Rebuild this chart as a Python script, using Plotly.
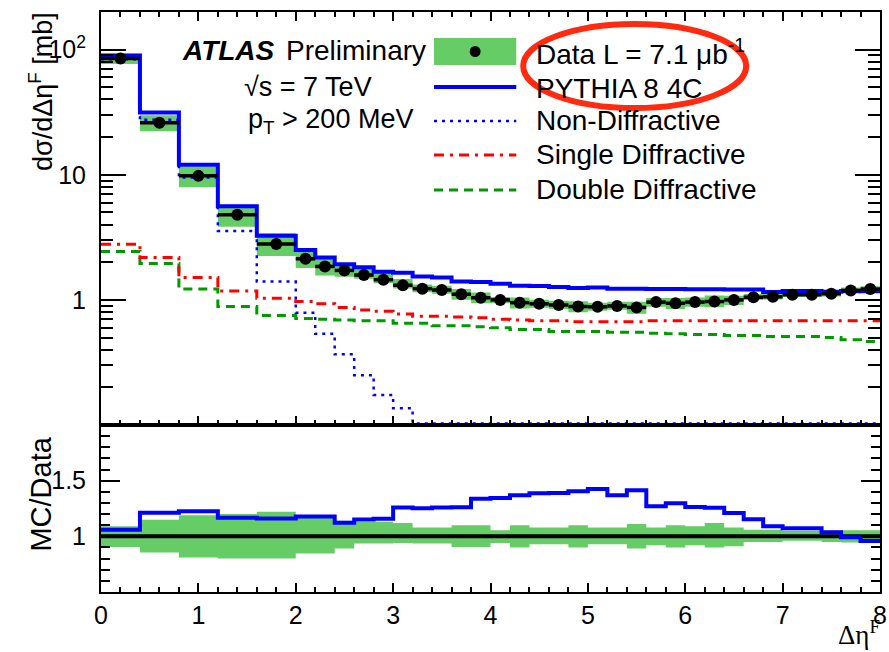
import plotly.graph_objects as go
import math

# ---------------- data ----------------
bin_edges = [0.0, 0.4, 0.8, 1.2, 1.6,
             2.0, 2.2, 2.4, 2.6, 2.8, 3.0, 3.2, 3.4, 3.6, 3.8,
             4.0, 4.2, 4.4, 4.6, 4.8, 5.0, 5.2, 5.4, 5.6, 5.8,
             6.0, 6.2, 6.4, 6.6, 6.8, 7.0, 7.2, 7.4, 7.6, 7.8, 8.0]

data_xsec = [85, 26, 9.8, 4.8, 2.8,
             2.13, 1.85, 1.72, 1.58, 1.45,
             1.31, 1.23, 1.20, 1.11, 1.04,
             1.00, 0.95, 0.93, 0.91, 0.885,
             0.88, 0.895, 0.87, 0.96, 0.94,
             0.96, 0.97, 1.00, 1.05, 1.06,
             1.10, 1.10, 1.12, 1.19, 1.22]

data_err_up = [0.09, 0.15, 0.19, 0.20, 0.22,
               0.17, 0.17, 0.14, 0.13, 0.13,
               0.12, 0.08, 0.08, 0.10, 0.10,
               0.055, 0.10, 0.08, 0.08, 0.10,
               0.08, 0.08, 0.11, 0.08, 0.10,
               0.09, 0.12, 0.08, 0.06, 0.06,
               0.05, 0.05, 0.05, 0.055, 0.055]

data_err_dn = [0.095, 0.145, 0.19, 0.20, 0.20,
               0.155, 0.155, 0.11, 0.065, 0.065,
               0.06, 0.065, 0.065, 0.095, 0.095,
               0.06, 0.10, 0.07, 0.07, 0.10,
               0.07, 0.07, 0.11, 0.08, 0.10,
               0.08, 0.10, 0.09, 0.05, 0.05,
               0.04, 0.04, 0.05, 0.055, 0.055]

pythia_total = [90, 31.5, 12.0, 5.6, 3.25,
                2.51, 2.18, 1.93, 1.82, 1.68,
                1.65, 1.54, 1.51, 1.40, 1.39,
                1.345, 1.30, 1.29, 1.265, 1.243,
                1.255, 1.226, 1.23, 1.22, 1.22,
                1.214, 1.218, 1.21, 1.21, 1.155,
                1.18, 1.18, 1.16, 1.18, 1.17]

non_diffractive = [84, 27.5, 9.5, 3.56, 1.40,
                   0.79, 0.535, 0.367, 0.25, 0.174,
                   0.136, 0.103, 0.103, 0.103, 0.103,
                   0.103, 0.103, 0.103, 0.103, 0.103,
                   0.103, 0.103, 0.103, 0.103, 0.103,
                   0.103, 0.103, 0.103, 0.103, 0.103,
                   0.103, 0.103, 0.103, 0.103, 0.103]

single_diffractive = [2.79, 2.18, 1.51, 1.18, 1.03,
                      0.97, 0.93, 0.87, 0.83, 0.81,
                      0.77, 0.74, 0.74, 0.73, 0.72,
                      0.70, 0.69, 0.68, 0.68, 0.67,
                      0.67, 0.67, 0.67, 0.68, 0.68,
                      0.68, 0.68, 0.68, 0.68, 0.68,
                      0.68, 0.68, 0.68, 0.68, 0.68]

double_diffractive = [2.44, 1.95, 1.22, 0.885, 0.75,
                      0.71, 0.70, 0.69, 0.68, 0.68,
                      0.65, 0.65, 0.62, 0.62, 0.61,
                      0.60, 0.58, 0.58, 0.56, 0.56,
                      0.56, 0.55, 0.55, 0.54, 0.535,
                      0.53, 0.53, 0.52, 0.52, 0.51,
                      0.51, 0.51, 0.50, 0.48, 0.465]

x_tick_vals = [0, 1, 2, 3, 4, 5, 6, 7, 8]
x_tick_text = ["0", "1", "2", "3", "4", "5", "6", "7", "8"]
y_tick_vals = [1, 10, 100]
y_tick_text = ["1", "10", "10<sup>2</sup>"]
r_tick_vals = [1, 1.5]
r_tick_text = ["1", "1.5"]

# ---------------- derived ----------------
centers = [(a + b) / 2 for a, b in zip(bin_edges[:-1], bin_edges[1:])]
half_w = [(b - a) / 2 for a, b in zip(bin_edges[:-1], bin_edges[1:])]
band_lo = [d * (1 - e) for d, e in zip(data_xsec, data_err_dn)]
band_hi = [d * (1 + e) for d, e in zip(data_xsec, data_err_up)]
ratio = [m / d for m, d in zip(pythia_total, data_xsec)]
ratio_lo = [1 - e for e in data_err_dn]
ratio_hi = [1 + e for e in data_err_up]
ones = [1.0 for _ in data_xsec]


def step(vals):
    return list(vals) + [vals[-1]]


# ---------------- layout geometry (pixels) ----------------
W, H = 889, 652
L, R, T, B = 101, 887, 12, 592
SPLIT = 425


def px(x):
    return (x - L) / (R - L)


def py(y):
    return (B - y) / (B - T)


split_frac = py(SPLIT)

GREEN_FILL = "#66cc66"
BLUE = "#0000ff"
RED = "#ff0000"
DGREEN = "#009900"
FONT = "Liberation Sans"

fig = go.Figure()

# ---- top panel ----
fig.add_trace(go.Scatter(x=bin_edges, y=step(band_lo), mode="lines", line_shape="hv",
                         line=dict(width=0, color=GREEN_FILL), xaxis="x", yaxis="y",
                         showlegend=False, hoverinfo="skip"))
fig.add_trace(go.Scatter(x=bin_edges, y=step(band_hi), mode="lines", line_shape="hv",
                         line=dict(width=0, color=GREEN_FILL), fill="tonexty",
                         fillcolor=GREEN_FILL, xaxis="x", yaxis="y",
                         showlegend=False, hoverinfo="skip"))
fig.add_trace(go.Scatter(x=bin_edges, y=step(double_diffractive), mode="lines", line_shape="hv",
                         line=dict(color=DGREEN, width=3, dash="9px,6px"),
                         xaxis="x", yaxis="y", name="Double Diffractive"))
fig.add_trace(go.Scatter(x=bin_edges, y=step(single_diffractive), mode="lines", line_shape="hv",
                         line=dict(color=RED, width=3, dash="10px,6px,3px,6px"),
                         xaxis="x", yaxis="y", name="Single Diffractive"))
fig.add_trace(go.Scatter(x=bin_edges, y=step(non_diffractive), mode="lines", line_shape="hv",
                         line=dict(color=BLUE, width=2.5, dash="3px,5px"),
                         xaxis="x", yaxis="y", name="Non-Diffractive"))
fig.add_trace(go.Scatter(x=bin_edges, y=step(pythia_total), mode="lines", line_shape="hv",
                         line=dict(color=BLUE, width=4),
                         xaxis="x", yaxis="y", name="PYTHIA 8 4C"))
fig.add_trace(go.Scatter(x=centers, y=data_xsec, mode="markers",
                         marker=dict(color="black", size=12, symbol="circle"),
                         error_x=dict(type="data", array=half_w, color="black",
                                      thickness=3.5, width=0),
                         xaxis="x", yaxis="y", name="Data"))

# ---- ratio panel ----
fig.add_trace(go.Scatter(x=bin_edges, y=step(ratio_lo), mode="lines", line_shape="hv",
                         line=dict(width=0, color=GREEN_FILL), xaxis="x2", yaxis="y2",
                         showlegend=False, hoverinfo="skip"))
fig.add_trace(go.Scatter(x=bin_edges, y=step(ratio_hi), mode="lines", line_shape="hv",
                         line=dict(width=0, color=GREEN_FILL), fill="tonexty",
                         fillcolor=GREEN_FILL, xaxis="x2", yaxis="y2",
                         showlegend=False, hoverinfo="skip"))
fig.add_trace(go.Scatter(x=bin_edges, y=step(ones), mode="lines", line_shape="hv",
                         line=dict(color="black", width=4), xaxis="x2", yaxis="y2",
                         showlegend=False))
fig.add_trace(go.Scatter(x=bin_edges, y=step(ratio), mode="lines", line_shape="hv",
                         line=dict(color=BLUE, width=4), xaxis="x2", yaxis="y2",
                         showlegend=False))

# minor tick positions for log axis
log_minor = [m * 10 ** e for e in (-1, 0, 1, 2) for m in range(2, 10) if m * 10 ** e <= 200]

axis_common = dict(showgrid=False, zeroline=False, showline=True, linecolor="black",
                   linewidth=2, ticks="inside", tickcolor="black", tickwidth=2,
                   tickfont=dict(family=FONT, size=25, color="black"))

fig.update_layout(
    width=W, height=H,
    margin=dict(l=L, r=W - R, t=T, b=H - B, pad=0),
    paper_bgcolor="white", plot_bgcolor="white",
    showlegend=False,
    font=dict(family=FONT, color="black"),
    xaxis=dict(domain=[0, 1], range=[0, 8], anchor="y", showticklabels=False,
               tickvals=x_tick_vals, ticklen=9, mirror="allticks",
               minor=dict(dtick=0.2, tick0=0, ticklen=5, ticks="inside",
                          tickwidth=2, tickcolor="black", showgrid=False),
               **axis_common),
    yaxis=dict(domain=[split_frac, 1], type="log", range=[-1, math.log10(200)],
               anchor="x", tickvals=y_tick_vals, ticktext=y_tick_text, ticklen=25,
               mirror="allticks", ticklabelstandoff=8,
               minor=dict(tickvals=log_minor, ticklen=12, ticks="inside",
                          tickwidth=2, tickcolor="black", showgrid=False),
               **axis_common),
    xaxis2=dict(domain=[0, 1], range=[0, 8], anchor="y2", tickvals=x_tick_vals,
                ticktext=x_tick_text, ticklen=9, mirror=True,
                ticklabeloverflow="allow",
                minor=dict(dtick=0.2, tick0=0, ticklen=5, ticks="inside",
                           tickwidth=2, tickcolor="black", showgrid=False),
                **axis_common),
    yaxis2=dict(domain=[0, split_frac], range=[0.5, 2.0], anchor="x2",
                tickvals=r_tick_vals, ticktext=r_tick_text, ticklen=19,
                mirror="allticks", ticklabelstandoff=8,
                minor=dict(dtick=0.1, tick0=0.5, ticklen=9, ticks="inside",
                           tickwidth=2, tickcolor="black", showgrid=False),
                **axis_common),
)

shapes = []
annotations = []

# ----- legend (drawn manually, ROOT style) -----
LX0, LX1, TX = 437, 520, 538
shapes.append(dict(type="rect", xref="paper", yref="paper",
                   x0=px(LX0), x1=px(LX1), y0=py(65), y1=py(38),
                   fillcolor=GREEN_FILL, line=dict(width=0)))
shapes.append(dict(type="circle", xref="paper", yref="paper",
                   x0=px(473), x1=px(484), y0=py(57), y1=py(46),
                   fillcolor="black", line=dict(width=0)))
legend_lines = [
    (87, dict(color=BLUE, width=4)),
    (121, dict(color=BLUE, width=2.5, dash="3px,5px")),
    (155, dict(color=RED, width=3, dash="10px,6px,3px,6px")),
    (190, dict(color=DGREEN, width=3, dash="9px,6px")),
]
for yy, ln in legend_lines:
    shapes.append(dict(type="line", xref="paper", yref="paper",
                       x0=px(LX0), x1=px(LX1), y0=py(yy), y1=py(yy), line=ln))

legend_texts = [
    (52, "Data L = 7.1 \u03bcb<sup>-1</sup>"),
    (88, "PYTHIA 8 4C"),
    (121, "Non-Diffractive"),
    (154, "Single Diffractive"),
    (189, "Double Diffractive"),
]
for yy, txt in legend_texts:
    annotations.append(dict(text=txt, xref="paper", yref="paper", x=px(TX), y=py(yy),
                            xanchor="left", yanchor="middle", showarrow=False,
                            font=dict(family=FONT, size=28, color="black")))

# ----- ATLAS label -----
annotations.append(dict(text="<b><i>ATLAS</i></b>", xref="paper", yref="paper",
                        x=px(181), y=py(50), xanchor="left", yanchor="middle",
                        showarrow=False, font=dict(family=FONT, size=28, color="black")))
annotations.append(dict(text="Preliminary", xref="paper", yref="paper",
                        x=px(286), y=py(50), xanchor="left", yanchor="middle",
                        showarrow=False, font=dict(family=FONT, size=28, color="black")))
annotations.append(dict(text="\u221as = 7 TeV", xref="paper", yref="paper",
                        x=px(243), y=py(87), xanchor="left", yanchor="middle",
                        showarrow=False, font=dict(family=FONT, size=27, color="black")))
annotations.append(dict(text="p<sub>T</sub> > 200 MeV", xref="paper", yref="paper",
                        x=px(247), y=py(121), xanchor="left", yanchor="middle",
                        showarrow=False, font=dict(family=FONT, size=27, color="black")))

# ----- axis titles -----
annotations.append(dict(text="d\u03c3/d\u0394\u03b7<sup>F</sup> [mb]", xref="paper", yref="paper",
                        x=px(40), y=py(10), xanchor="center", yanchor="top", textangle=-90,
                        showarrow=False, font=dict(family=FONT, size=27, color="black")))
annotations.append(dict(text="MC/Data", xref="paper", yref="paper",
                        x=px(40), y=py(494), xanchor="center", yanchor="middle", textangle=-90,
                        showarrow=False, font=dict(family=FONT, size=29, color="black")))
annotations.append(dict(text="\u0394\u03b7<sup>F</sup>", xref="paper", yref="paper",
                        x=px(889), y=py(652), xanchor="right", yanchor="bottom",
                        showarrow=False, font=dict(family="Liberation Serif", size=27, color="black")))

# ----- red highlight ellipse -----
shapes.append(dict(type="circle", xref="paper", yref="paper",
                   x0=px(527), x1=px(752), y0=py(108), y1=py(24),
                   line=dict(color="#ff2a10", width=6), layer="above"))

fig.update_layout(shapes=shapes, annotations=annotations)

fig.write_html("out.html",
               config={"displayModeBar": False, "responsive": False},
               post_script="document.body.style.margin='0px';"
                           "document.body.style.overflow='hidden';")
